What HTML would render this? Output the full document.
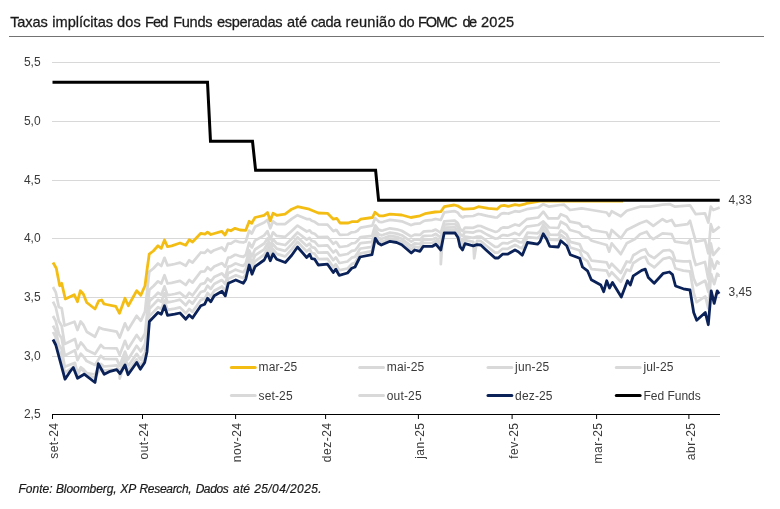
<!DOCTYPE html>
<html><head><meta charset="utf-8"><title>Chart</title>
<style>
html,body{margin:0;padding:0;background:#fff;}
body{width:780px;height:509px;position:relative;overflow:hidden;font-family:"Liberation Sans",sans-serif;}
svg text{font-family:"Liberation Sans",sans-serif;}
svg,#foot{will-change:transform;}
#title{position:absolute;left:10.3px;top:12.6px;font-size:14.6px;line-height:18px;color:#1f1f1f;white-space:nowrap;letter-spacing:-0.135px;}
#rule{position:absolute;left:9px;top:36px;width:755px;height:1px;background:#737373;}
#foot{position:absolute;left:18px;top:482px;font-size:12px;line-height:14px;font-style:italic;color:#1f1f1f;white-space:nowrap;letter-spacing:0.065px;}
</style></head><body>
<svg width="780" height="40" viewBox="0 0 780 40" style="position:absolute;left:0;top:0"><text x="10.18" y="26.6" font-size="14.6" fill="#1a1a1a" stroke="#1a1a1a" stroke-width="0.28" textLength="37.54" lengthAdjust="spacing">Taxas</text><text x="52.31" y="26.6" font-size="14.6" fill="#1a1a1a" stroke="#1a1a1a" stroke-width="0.28" textLength="60.74" lengthAdjust="spacing">implícitas</text><text x="117.01" y="26.6" font-size="14.6" fill="#1a1a1a" stroke="#1a1a1a" stroke-width="0.28" textLength="23.89" lengthAdjust="spacing">dos</text><text x="145.03" y="26.6" font-size="14.6" fill="#1a1a1a" stroke="#1a1a1a" stroke-width="0.28" textLength="23.34" lengthAdjust="spacing">Fed</text><text x="173.17" y="26.6" font-size="14.6" fill="#1a1a1a" stroke="#1a1a1a" stroke-width="0.28" textLength="39.32" lengthAdjust="spacing">Funds</text><text x="216.99" y="26.6" font-size="14.6" fill="#1a1a1a" stroke="#1a1a1a" stroke-width="0.28" textLength="65.50" lengthAdjust="spacing">esperadas</text><text x="286.91" y="26.6" font-size="14.6" fill="#1a1a1a" stroke="#1a1a1a" stroke-width="0.28" textLength="20.20" lengthAdjust="spacing">até</text><text x="310.93" y="26.6" font-size="14.6" fill="#1a1a1a" stroke="#1a1a1a" stroke-width="0.28" textLength="30.53" lengthAdjust="spacing">cada</text><text x="345.59" y="26.6" font-size="14.6" fill="#1a1a1a" stroke="#1a1a1a" stroke-width="0.28" textLength="49.98" lengthAdjust="spacing">reunião</text><text x="398.75" y="26.6" font-size="14.6" fill="#1a1a1a" stroke="#1a1a1a" stroke-width="0.28" textLength="15.79" lengthAdjust="spacing">do</text><text x="418.07" y="26.6" font-size="14.6" fill="#1a1a1a" stroke="#1a1a1a" stroke-width="0.28" textLength="39.60" lengthAdjust="spacing">FOMC</text><text x="462.46" y="26.6" font-size="14.6" fill="#1a1a1a" stroke="#1a1a1a" stroke-width="0.28" textLength="14.65" lengthAdjust="spacing">de</text><text x="481.03" y="26.6" font-size="14.6" fill="#1a1a1a" stroke="#1a1a1a" stroke-width="0.28" textLength="33.14" lengthAdjust="spacing">2025</text></svg>
<div id="rule"></div>
<svg width="780" height="509" viewBox="0 0 780 509" style="position:absolute;left:0;top:0">
<line x1="52" x2="720" y1="62.5" y2="62.5" stroke="#cbcbcb" stroke-width="0.75"/>
<line x1="52" x2="720" y1="121.5" y2="121.5" stroke="#cbcbcb" stroke-width="0.75"/>
<line x1="52" x2="720" y1="180.5" y2="180.5" stroke="#cbcbcb" stroke-width="0.75"/>
<line x1="52" x2="720" y1="238.5" y2="238.5" stroke="#cbcbcb" stroke-width="0.75"/>
<line x1="52" x2="720" y1="297.5" y2="297.5" stroke="#cbcbcb" stroke-width="0.75"/>
<line x1="52" x2="720" y1="356.5" y2="356.5" stroke="#cbcbcb" stroke-width="0.75"/>
<path d="M53.0,287.0 L55.8,292.3 L58.8,307.0 L61.7,308.3 L64.5,325.5 L74.5,321.7 L77.5,330.0 L80.6,321.5 L83.5,325.0 L86.7,331.7 L95.0,336.7 L99.2,327.5 L103.3,329.2 L116.7,331.7 L119.7,337.5 L125.0,323.3 L128.0,330.0 L136.7,315.8 L140.8,320.8 L145.0,311.7 L147.0,292.4 L149.2,272.4 L149.4,271.6 L153.3,268.5 L158.0,263.5 L161.3,266.0 L164.5,257.8 L167.5,265.4 L171.7,264.7 L174.7,264.0 L180.0,262.6 L185.8,265.7 L189.2,260.3 L192.5,262.6 L200.8,252.5 L204.7,252.8 L205.0,252.7 L207.5,249.8 L210.8,252.5 L214.2,250.2 L221.7,247.5 L222.0,247.7 L225.0,250.9 L225.3,250.5 L227.8,244.0 L228.3,243.5 L230.8,243.6 L235.0,240.8 L235.8,240.9 L240.0,242.2 L243.3,242.5 L245.8,241.5 L249.2,230.7 L251.7,233.5 L252.0,233.2 L255.0,226.8 L264.2,222.5 L267.5,219.7 L270.3,228.3 L273.0,221.3 L276.7,224.1 L285.0,224.1 L285.3,223.9 L291.7,218.8 L297.5,215.2 L306.7,219.1 L309.2,219.0 L309.7,219.0 L311.7,220.7 L314.7,221.8 L318.3,224.4 L327.5,224.6 L333.3,231.2 L335.8,230.0 L336.7,230.2 L339.2,234.0 L340.0,234.8 L347.5,234.5 L348.3,234.3 L351.7,232.3 L355.0,232.0 L357.5,230.8 L360.0,228.1 L360.8,227.6 L372.0,225.7 L372.5,225.1 L375.0,218.2 L375.3,218.1 L378.3,221.1 L379.2,221.8 L381.3,222.1 L383.3,221.8 L390.0,219.9 L396.7,220.6 L401.7,221.3 L410.8,225.0 L411.3,225.0 L414.7,223.9 L420.0,223.4 L423.3,221.3 L425.0,220.7 L432.5,219.8 L435.0,219.1 L435.8,219.0 L440.8,220.0 L444.2,212.4 L454.2,211.2 L455.0,211.3 L457.5,212.5 L458.0,212.9 L460.0,215.7 L462.5,217.4 L463.3,217.3 L465.0,216.3 L473.3,216.0 L477.0,214.5 L478.3,214.0 L480.8,214.3 L485.8,215.6 L488.3,216.2 L495.0,217.4 L497.0,217.5 L498.3,216.4 L500.8,214.0 L502.5,213.4 L504.2,213.1 L507.5,213.5 L508.3,213.6 L515.0,211.2 L518.3,211.6 L519.2,211.7 L526.7,209.2 L538.3,207.5 L543.3,204.2 L549.2,206.7 L560.0,205.0 L564.2,204.7 L570.0,210.0 L581.7,208.3 L591.7,210.0 L606.7,212.5 L609.2,215.8 L611.7,211.3 L620.8,216.3 L626.7,210.8 L640.0,206.7 L650.0,206.7 L662.5,204.7 L670.0,204.2 L675.0,206.7 L690.0,205.3 L695.8,214.2 L705.0,213.3 L708.3,222.5 L710.8,206.7 L713.3,210.0 L719.7,207.5" fill="none" stroke="#D9D9D9" stroke-width="2.75" stroke-linejoin="round" stroke-linecap="butt"/>
<path d="M53.0,301.7 L55.8,307.5 L58.8,321.0 L61.7,326.0 L64.7,344.0 L75.0,339.0 L77.5,349.0 L80.8,342.5 L83.5,345.5 L86.7,350.0 L95.0,354.0 L100.8,345.0 L104.0,348.0 L116.7,348.3 L119.7,355.0 L125.0,340.8 L128.0,348.7 L136.7,335.0 L140.8,340.8 L145.0,333.3 L147.0,314.4 L149.2,291.2 L149.4,289.8 L153.3,286.3 L158.0,281.3 L161.3,283.5 L164.5,275.2 L167.5,283.5 L171.7,282.8 L174.7,282.2 L180.0,280.8 L185.8,285.0 L189.2,280.0 L192.5,282.6 L200.8,271.7 L204.7,271.3 L205.0,271.0 L207.5,267.2 L210.8,270.1 L214.2,266.5 L221.7,263.2 L222.0,263.2 L225.0,266.7 L225.3,266.6 L227.8,258.7 L228.3,257.7 L230.8,257.3 L235.0,254.8 L235.8,254.8 L240.0,256.2 L243.3,256.9 L245.8,254.8 L249.2,242.7 L251.7,247.3 L252.0,247.4 L255.0,240.6 L264.2,235.4 L267.5,231.2 L270.3,239.4 L273.0,232.3 L276.7,235.9 L285.0,236.8 L285.3,236.8 L291.7,230.9 L297.5,225.6 L306.7,231.5 L309.2,230.5 L309.7,230.4 L311.7,232.9 L314.7,233.8 L318.3,237.2 L327.5,236.9 L333.3,243.9 L335.8,242.0 L336.7,242.6 L339.2,246.5 L340.0,247.0 L347.5,246.0 L348.3,245.6 L351.7,243.4 L355.0,243.0 L357.5,240.8 L360.0,237.6 L360.8,237.2 L372.0,235.9 L372.5,234.7 L375.0,226.0 L375.3,225.4 L378.3,229.3 L379.2,229.9 L381.3,230.6 L383.3,230.3 L390.0,228.3 L396.7,229.3 L401.7,230.7 L410.8,236.2 L411.3,236.4 L414.7,234.6 L420.0,234.9 L423.3,231.7 L425.0,231.4 L432.5,230.9 L435.0,229.9 L435.8,229.6 L440.8,232.8 L444.2,221.3 L454.2,220.7 L455.0,220.7 L457.5,222.9 L458.0,223.4 L460.0,228.8 L462.5,231.0 L463.3,230.1 L465.0,227.6 L473.3,227.8 L477.0,226.2 L478.3,225.9 L480.8,226.0 L485.8,228.2 L488.3,229.3 L495.0,231.8 L497.0,231.6 L498.3,230.9 L500.8,228.5 L502.5,227.6 L504.2,227.3 L507.5,227.6 L508.3,227.4 L515.0,224.5 L518.3,225.3 L519.2,225.6 L526.7,219.2 L538.3,217.5 L543.3,211.7 L548.3,218.3 L558.3,218.3 L560.8,214.2 L566.7,216.7 L570.0,221.7 L579.2,223.3 L582.5,226.7 L588.3,226.7 L591.7,230.0 L606.7,232.5 L609.2,238.3 L611.7,230.0 L620.8,238.3 L626.7,230.0 L640.0,223.3 L646.7,220.8 L650.0,223.3 L653.3,225.8 L662.5,219.2 L666.7,221.7 L671.7,220.0 L675.0,225.8 L687.5,224.2 L690.0,220.8 L695.8,241.7 L705.0,240.0 L708.3,253.3 L710.8,224.2 L713.3,231.7 L719.7,226.7" fill="none" stroke="#D9D9D9" stroke-width="2.75" stroke-linejoin="round" stroke-linecap="butt"/>
<path d="M53.0,316.0 L55.8,321.1 L58.8,333.9 L61.7,338.3 L64.7,355.6 L75.0,350.3 L77.5,360.2 L80.8,353.7 L83.5,356.6 L86.7,361.1 L95.0,364.9 L100.8,355.8 L104.0,358.8 L116.7,359.1 L119.7,365.8 L125.0,351.6 L128.0,359.5 L136.7,345.8 L140.8,351.5 L145.0,343.8 L147.0,328.1 L149.2,303.1 L149.4,301.3 L153.3,297.6 L158.0,292.7 L161.3,294.7 L164.5,286.4 L167.5,295.1 L171.7,294.5 L174.7,294.0 L180.0,292.7 L185.8,297.6 L189.2,292.8 L192.5,295.5 L200.8,284.1 L204.7,283.2 L205.0,282.8 L207.5,278.5 L210.8,281.5 L214.2,277.1 L221.7,273.4 L222.0,273.4 L225.0,277.0 L225.3,277.1 L227.8,268.2 L228.3,266.7 L230.8,266.1 L235.0,263.7 L235.8,263.5 L240.0,265.0 L243.3,265.9 L245.8,263.1 L249.2,250.3 L251.7,256.1 L252.0,256.5 L255.0,249.5 L264.2,243.5 L267.5,238.4 L270.3,246.3 L273.0,239.2 L276.7,243.4 L285.0,245.0 L285.3,245.0 L291.7,238.7 L297.5,232.5 L306.7,239.7 L309.2,238.1 L309.7,237.9 L311.7,241.0 L314.7,241.7 L318.3,245.8 L327.5,245.3 L333.3,252.5 L335.8,250.2 L336.7,251.1 L339.2,255.2 L340.0,255.4 L347.5,254.0 L348.3,253.5 L351.7,250.9 L355.0,250.3 L357.5,247.3 L360.0,243.5 L360.8,243.2 L372.0,241.9 L372.5,240.2 L375.0,230.4 L375.3,229.5 L378.3,233.8 L379.2,234.4 L381.3,235.3 L383.3,234.8 L390.0,232.6 L396.7,233.6 L401.7,235.2 L410.8,241.3 L411.3,241.6 L414.7,239.4 L420.0,239.9 L423.3,236.1 L425.0,235.9 L432.5,235.5 L435.0,234.2 L435.8,233.9 L440.8,237.7 L444.2,224.6 L454.2,224.0 L455.0,224.1 L457.5,226.6 L458.0,227.2 L460.0,233.6 L462.5,236.1 L463.3,234.9 L465.0,231.9 L473.3,232.6 L477.0,231.1 L478.3,230.9 L480.8,231.0 L485.8,233.9 L488.3,235.2 L495.0,238.6 L497.0,238.5 L498.3,238.1 L500.8,236.0 L502.5,235.1 L504.2,235.1 L507.5,235.6 L508.3,235.5 L515.0,232.9 L518.3,234.4 L519.2,235.0 L526.7,226.7 L538.3,225.0 L543.3,221.5 L549.2,227.5 L558.3,228.0 L560.8,221.7 L566.7,225.0 L570.0,230.0 L579.2,232.5 L582.5,236.0 L588.3,237.5 L591.7,240.8 L606.7,245.0 L609.2,251.7 L611.7,243.3 L620.8,254.2 L626.7,243.3 L635.0,239.0 L640.0,234.2 L646.7,231.7 L650.0,236.7 L653.3,239.2 L662.5,233.3 L671.7,234.2 L675.0,241.7 L687.5,243.3 L690.0,240.0 L693.7,258.0 L695.8,265.0 L705.0,262.0 L708.3,279.0 L710.8,243.3 L713.3,255.0 L719.7,247.5" fill="none" stroke="#D9D9D9" stroke-width="2.75" stroke-linejoin="round" stroke-linecap="butt"/>
<path d="M53.0,325.7 L55.8,331.2 L58.8,344.4 L61.7,349.1 L64.7,366.8 L75.0,362.9 L77.5,373.5 L80.8,367.3 L83.5,369.4 L86.7,373.0 L95.0,374.5 L100.8,363.9 L104.0,366.5 L116.7,365.3 L119.7,372.0 L125.0,357.8 L128.0,366.2 L136.7,353.9 L140.8,359.8 L145.0,352.3 L147.0,337.0 L149.2,310.8 L149.4,308.7 L153.3,304.8 L158.0,299.8 L161.3,301.7 L164.5,293.3 L167.5,302.3 L171.7,301.6 L174.7,301.0 L180.0,299.7 L185.8,305.2 L189.2,300.7 L192.5,303.6 L200.8,292.0 L204.7,290.9 L205.0,290.4 L207.5,285.7 L210.8,288.9 L214.2,284.0 L221.7,280.0 L222.0,280.0 L225.0,283.8 L225.3,284.0 L227.8,274.5 L228.3,272.9 L230.8,272.1 L235.0,269.9 L235.8,269.7 L240.0,271.2 L243.3,272.3 L245.8,268.9 L249.2,255.5 L251.7,262.1 L252.0,262.7 L255.0,255.4 L264.2,249.3 L267.5,243.5 L270.3,251.2 L273.0,244.1 L276.7,248.7 L285.0,250.8 L285.3,250.9 L291.7,244.2 L297.5,237.3 L306.7,245.9 L309.2,243.9 L309.7,243.6 L311.7,247.2 L314.7,247.9 L318.3,252.7 L327.5,252.3 L333.3,260.1 L335.8,257.4 L336.7,258.6 L339.2,262.9 L340.0,263.0 L347.5,261.5 L348.3,260.8 L351.7,257.7 L355.0,256.8 L357.5,253.0 L360.0,248.8 L360.8,248.5 L372.0,246.8 L372.5,244.8 L375.0,234.0 L375.3,232.9 L378.3,237.4 L379.2,238.0 L381.3,239.0 L383.3,238.3 L390.0,235.9 L396.7,236.9 L401.7,238.8 L410.8,245.6 L411.3,245.9 L414.7,243.4 L420.0,244.2 L423.3,239.9 L425.0,239.8 L432.5,239.5 L435.0,238.2 L435.8,237.8 L440.8,242.3 L444.2,227.7 L454.2,227.4 L455.0,227.4 L457.5,230.5 L458.0,231.1 L460.0,238.6 L462.5,241.5 L463.3,240.0 L465.0,236.5 L473.3,237.9 L477.0,236.6 L478.3,236.5 L480.8,236.7 L485.8,240.4 L488.3,242.2 L495.0,246.8 L497.0,246.8 L498.3,246.5 L500.8,244.3 L502.5,243.1 L504.2,243.1 L507.5,243.4 L508.3,243.1 L515.0,239.9 L518.3,241.4 L519.2,242.1 L522.3,242.3 L526.7,234.1 L527.5,232.7 L537.5,233.3 L538.3,232.7 L540.0,231.1 L543.3,224.9 L546.7,229.2 L549.2,233.8 L549.7,234.6 L558.3,234.8 L560.8,230.4 L566.7,234.6 L570.0,241.4 L570.3,241.9 L579.2,244.1 L579.7,244.3 L582.5,250.6 L587.5,253.7 L588.3,255.1 L591.3,260.4 L591.7,260.6 L606.7,262.4 L609.2,267.7 L611.7,263.8 L620.8,273.0 L626.7,261.5 L630.3,262.3 L633.3,255.3 L635.0,254.3 L640.0,251.1 L641.7,250.2 L645.3,249.2 L646.7,251.8 L648.3,254.7 L650.0,255.8 L653.3,257.6 L654.2,258.1 L662.5,251.2 L663.3,250.7 L669.5,250.0 L671.7,251.7 L672.5,252.3 L675.0,259.3 L675.5,260.6 L683.3,261.4 L687.5,261.3 L690.0,261.2 L693.7,278.5 L695.8,283.6 L696.7,285.3 L705.0,280.7 L705.3,280.8 L708.3,292.0 L710.8,262.1 L711.2,259.1 L713.3,266.2 L714.2,268.7 L717.2,261.3 L719.2,263.5 L719.7,263.5" fill="none" stroke="#D9D9D9" stroke-width="2.75" stroke-linejoin="round" stroke-linecap="butt"/>
<path d="M53.0,332.0 L55.8,337.5 L58.8,350.7 L61.7,355.4 L64.7,373.0 L75.0,365.8 L77.5,375.5 L80.8,368.5 L83.5,371.0 L86.7,375.0 L95.0,377.8 L100.8,367.9 L104.0,370.5 L116.7,369.4 L118.2,371.5 L119.7,373.6 L119.7,378.5 L125.0,362.8 L128.0,371.3 L136.7,359.4 L140.8,365.5 L145.0,358.3 L147.0,345.4 L149.2,318.4 L149.4,316.1 L153.3,312.1 L158.0,307.2 L161.3,308.9 L164.5,300.5 L167.5,309.8 L171.7,309.1 L174.7,308.6 L180.0,307.4 L185.8,313.3 L189.2,309.0 L192.5,311.9 L200.8,300.0 L204.7,298.6 L205.0,298.0 L207.5,293.0 L210.8,296.3 L214.2,290.8 L221.7,286.7 L222.0,286.5 L225.0,290.4 L225.3,290.7 L227.8,280.7 L228.3,278.8 L230.8,277.7 L235.0,275.7 L235.8,275.3 L240.0,276.9 L243.3,278.1 L245.8,274.3 L249.2,260.5 L251.7,267.9 L252.0,268.7 L255.0,261.3 L264.2,254.6 L267.5,248.4 L270.3,256.0 L273.0,249.0 L276.7,253.9 L285.0,256.4 L285.3,256.4 L291.7,249.4 L297.5,241.8 L306.7,251.5 L309.2,249.3 L309.7,248.8 L311.7,253.0 L314.7,253.7 L318.3,259.1 L327.5,258.8 L333.3,267.1 L335.8,264.2 L336.7,265.6 L339.2,270.1 L340.0,270.1 L347.5,268.5 L348.3,267.7 L351.7,264.1 L355.0,262.8 L357.5,258.3 L360.0,253.5 L360.8,253.3 L372.0,251.1 L372.5,248.9 L375.0,237.1 L375.3,235.8 L378.3,240.6 L379.2,241.1 L381.3,242.1 L383.3,241.4 L390.0,238.6 L396.7,239.7 L401.7,241.7 L410.8,249.1 L411.3,249.4 L414.7,246.7 L420.0,247.8 L423.3,243.1 L425.0,243.0 L432.5,242.9 L435.0,241.4 L435.8,241.0 L438.6,242.7 L440.8,246.2 L440.8,264.2 L443.2,230.4 L444.2,230.4 L454.2,230.2 L455.0,230.2 L457.5,233.6 L458.0,234.3 L460.0,242.7 L462.5,245.8 L463.3,244.0 L465.0,240.2 L471.2,241.3 L473.3,241.9 L474.2,258.3 L477.0,240.8 L477.0,240.8 L478.3,240.8 L480.8,241.0 L485.8,245.2 L488.3,247.2 L495.0,252.6 L497.0,252.6 L498.3,252.5 L500.8,250.2 L502.5,248.8 L504.2,248.8 L507.5,248.9 L508.3,248.5 L515.0,245.0 L518.3,246.6 L519.2,247.3 L522.3,248.4 L526.7,238.9 L527.5,237.2 L537.5,238.1 L538.3,237.4 L540.0,235.7 L543.3,228.7 L546.7,233.6 L549.2,238.7 L549.7,239.7 L558.3,240.1 L560.8,234.9 L566.7,239.5 L570.0,246.9 L570.3,247.5 L579.2,250.3 L579.7,250.4 L582.5,257.8 L587.5,261.2 L588.3,262.8 L591.3,268.9 L591.7,269.1 L606.7,270.6 L609.2,276.1 L611.7,272.3 L620.8,281.8 L626.7,269.6 L630.3,270.9 L633.3,263.0 L635.0,262.0 L640.0,258.7 L641.7,257.8 L645.3,256.7 L646.7,259.7 L648.3,263.2 L650.0,264.4 L653.3,266.7 L654.2,267.4 L662.5,259.6 L663.3,258.8 L669.5,257.4 L671.7,258.9 L672.5,259.5 L675.0,267.1 L675.5,268.5 L683.3,270.6 L687.5,271.1 L690.0,271.4 L693.7,293.0 L695.8,299.6 L696.7,302.2 L705.0,296.6 L705.3,296.5 L708.3,308.3 L710.8,278.0 L711.2,274.1 L713.3,281.4 L714.2,284.2 L717.2,273.7 L719.2,275.7 L719.7,275.6" fill="none" stroke="#D9D9D9" stroke-width="2.75" stroke-linejoin="round" stroke-linecap="butt"/>
<path d="M53.0,262.5 L56.3,268.3 L59.7,285.8 L61.7,283.3 L65.3,299.0 L74.2,294.7 L77.5,301.7 L80.3,290.8 L83.3,294.0 L86.7,302.5 L95.0,309.0 L98.7,300.8 L101.7,300.0 L104.0,304.0 L115.8,306.3 L119.5,313.3 L125.0,298.3 L128.3,305.8 L136.7,290.8 L140.8,295.3 L145.0,285.8 L147.0,270.0 L149.2,254.2 L153.3,251.0 L158.0,245.8 L161.3,248.3 L164.5,240.0 L167.5,246.7 L171.7,245.8 L180.0,243.0 L185.8,245.3 L189.2,239.7 L192.5,242.0 L200.8,233.3 L205.0,234.2 L207.5,232.2 L210.8,234.5 L221.7,231.3 L225.0,235.0 L227.8,229.7 L230.8,230.8 L235.0,228.3 L240.0,230.0 L245.8,230.3 L249.2,221.3 L251.7,223.3 L255.0,217.5 L264.2,215.3 L267.5,212.5 L270.3,220.8 L273.0,213.2 L276.7,215.3 L285.0,214.2 L291.7,209.2 L297.5,206.7 L309.2,209.2 L318.3,213.0 L327.5,213.3 L333.3,219.2 L336.7,218.3 L340.0,223.0 L348.3,223.0 L351.7,221.7 L357.5,221.7 L360.8,219.2 L372.5,217.5 L375.0,212.2 L379.2,215.8 L383.3,215.8 L390.0,214.2 L396.7,214.7 L401.7,215.0 L410.8,217.5 L420.0,215.8 L425.0,213.7 L435.0,212.0 L440.8,211.7 L444.2,206.7 L454.2,205.0 L457.5,205.8 L463.3,209.2 L473.3,208.7 L478.3,206.7 L488.3,208.3 L497.0,209.2 L500.8,205.8 L504.2,205.3 L508.3,206.3 L515.0,204.7 L519.2,205.3 L524.7,204.2 L526.7,203.3 L540.0,201.2 L568.0,201.1 L600.0,201.1 L623.0,201.1" fill="none" stroke="#F4BD14" stroke-width="2.8" stroke-linejoin="round" stroke-linecap="butt"/>
<path d="M53.0,339.5 L55.8,345.0 L65.0,379.2 L70.0,371.7 L73.3,367.5 L77.5,378.3 L84.2,374.2 L95.0,382.5 L98.3,363.7 L104.2,374.2 L109.2,371.7 L116.7,369.7 L120.0,373.7 L125.0,365.0 L128.0,374.7 L136.7,362.5 L140.3,369.2 L144.7,362.5 L147.0,351.7 L149.4,321.5 L158.0,312.5 L161.3,314.2 L164.5,305.8 L167.5,315.3 L174.7,314.2 L180.0,313.0 L185.8,319.2 L189.2,315.0 L192.5,318.0 L200.8,305.8 L204.7,304.2 L207.5,298.3 L210.8,301.7 L214.2,295.8 L222.0,291.3 L225.3,295.8 L228.3,283.3 L235.8,280.0 L243.3,283.3 L245.8,279.2 L249.2,265.0 L252.0,274.2 L255.0,266.7 L264.2,260.0 L267.5,253.3 L270.3,260.8 L273.0,253.9 L276.7,259.2 L285.3,262.5 L291.7,255.3 L297.5,247.0 L306.7,257.5 L309.7,254.2 L311.7,258.7 L314.7,259.2 L318.3,265.0 L327.5,264.2 L333.3,272.5 L335.8,269.2 L339.2,275.3 L347.5,273.0 L351.7,268.3 L355.0,267.0 L360.0,257.0 L372.0,254.7 L375.3,238.3 L378.3,243.3 L381.3,245.0 L390.0,241.3 L396.7,242.5 L401.7,244.7 L411.3,253.0 L414.7,250.0 L420.0,251.3 L423.3,246.3 L432.5,246.3 L435.8,244.2 L440.8,250.0 L444.2,233.0 L455.0,233.0 L458.0,237.5 L460.0,246.7 L462.5,250.0 L465.0,243.7 L473.3,245.8 L477.0,244.7 L480.8,245.0 L485.8,249.7 L495.0,258.0 L498.3,258.0 L502.5,254.2 L507.5,254.2 L515.0,250.0 L518.3,251.7 L522.3,255.2 L527.5,242.5 L537.5,244.2 L540.0,241.7 L543.3,233.7 L546.7,239.2 L549.7,246.3 L558.3,247.0 L560.8,240.8 L566.7,245.8 L570.3,254.7 L579.7,258.3 L582.5,267.0 L587.5,270.8 L591.3,279.7 L600.8,285.0 L603.7,291.7 L606.7,280.8 L609.5,288.0 L612.5,282.5 L621.3,297.0 L627.5,280.8 L630.3,285.0 L633.3,275.8 L641.7,270.3 L645.3,269.2 L648.3,277.5 L654.2,283.2 L663.3,273.3 L669.5,272.0 L672.5,274.6 L675.5,286.0 L683.3,288.8 L690.0,290.0 L693.7,312.5 L696.7,320.3 L705.3,312.5 L708.3,324.7 L711.2,290.8 L714.2,303.3 L717.2,290.8 L719.2,293.7" fill="none" stroke="#0B2259" stroke-width="2.8" stroke-linejoin="round" stroke-linecap="butt"/>
<path d="M52.5,82.2 L207.5,82.2 L210.5,141.3 L252.5,141.3 L255.6,170.3 L375.6,170.3 L378.6,200.3 L719.7,200.3" fill="none" stroke="#000" stroke-width="3" stroke-linejoin="miter" stroke-linecap="butt"/>
<line x1="52" x2="720" y1="414.5" y2="414.5" stroke="#000" stroke-width="1"/>
<line x1="52.5" x2="52.5" y1="414.5" y2="419.0" stroke="#000" stroke-width="1"/>
<line x1="142.5" x2="142.5" y1="414.5" y2="419.0" stroke="#000" stroke-width="1"/>
<line x1="235.6" x2="235.6" y1="414.5" y2="419.0" stroke="#000" stroke-width="1"/>
<line x1="325.6" x2="325.6" y1="414.5" y2="419.0" stroke="#000" stroke-width="1"/>
<line x1="418.4" x2="418.4" y1="414.5" y2="419.0" stroke="#000" stroke-width="1"/>
<line x1="512.1" x2="512.1" y1="414.5" y2="419.0" stroke="#000" stroke-width="1"/>
<line x1="596.6" x2="596.6" y1="414.5" y2="419.0" stroke="#000" stroke-width="1"/>
<line x1="688.9" x2="688.9" y1="414.5" y2="419.0" stroke="#000" stroke-width="1"/>
<line x1="231.4" x2="255.2" y1="367.4" y2="367.4" stroke="#F4BD14" stroke-width="3" stroke-linecap="round"/>
<text x="258.5" y="370.8" font-size="12" letter-spacing="0.15" fill="#3a3a3a">mar-25</text>
<line x1="359.7" x2="383.5" y1="367.4" y2="367.4" stroke="#D9D9D9" stroke-width="3" stroke-linecap="round"/>
<text x="386.8" y="370.8" font-size="12" letter-spacing="0.15" fill="#3a3a3a">mai-25</text>
<line x1="488.0" x2="511.8" y1="367.4" y2="367.4" stroke="#D9D9D9" stroke-width="3" stroke-linecap="round"/>
<text x="515.1" y="370.8" font-size="12" letter-spacing="0.15" fill="#3a3a3a">jun-25</text>
<line x1="616.3" x2="640.1" y1="367.4" y2="367.4" stroke="#D9D9D9" stroke-width="3" stroke-linecap="round"/>
<text x="643.4" y="370.8" font-size="12" letter-spacing="0.15" fill="#3a3a3a">jul-25</text>
<line x1="231.4" x2="255.2" y1="395.5" y2="395.5" stroke="#D9D9D9" stroke-width="3" stroke-linecap="round"/>
<text x="258.5" y="399.5" font-size="12" letter-spacing="0.15" fill="#3a3a3a">set-25</text>
<line x1="359.7" x2="383.5" y1="395.5" y2="395.5" stroke="#D9D9D9" stroke-width="3" stroke-linecap="round"/>
<text x="386.8" y="399.5" font-size="12" letter-spacing="0.15" fill="#3a3a3a">out-25</text>
<line x1="488.0" x2="511.8" y1="395.5" y2="395.5" stroke="#0B2259" stroke-width="3" stroke-linecap="round"/>
<text x="515.1" y="399.5" font-size="12" letter-spacing="0.15" fill="#3a3a3a">dez-25</text>
<line x1="616.3" x2="640.1" y1="395.5" y2="395.5" stroke="#000" stroke-width="3" stroke-linecap="round"/>
<text x="643.4" y="399.5" font-size="12" letter-spacing="0" fill="#3a3a3a">Fed Funds</text>
<text x="40.6" y="66.0" font-size="12" fill="#3a3a3a" text-anchor="end">5,5</text>
<text x="40.6" y="125.0" font-size="12" fill="#3a3a3a" text-anchor="end">5,0</text>
<text x="40.6" y="184.0" font-size="12" fill="#3a3a3a" text-anchor="end">4,5</text>
<text x="40.6" y="242.0" font-size="12" fill="#3a3a3a" text-anchor="end">4,0</text>
<text x="40.6" y="301.0" font-size="12" fill="#3a3a3a" text-anchor="end">3,5</text>
<text x="40.6" y="360.0" font-size="12" fill="#3a3a3a" text-anchor="end">3,0</text>
<text x="40.6" y="418.0" font-size="12" fill="#3a3a3a" text-anchor="end">2,5</text>
<text transform="translate(58.1,422.5) rotate(-90)" letter-spacing="0.5" font-size="12" fill="#3a3a3a" text-anchor="end">set-24</text>
<text transform="translate(148.1,422.5) rotate(-90)" letter-spacing="0.5" font-size="12" fill="#3a3a3a" text-anchor="end">out-24</text>
<text transform="translate(241.2,422.5) rotate(-90)" letter-spacing="0.5" font-size="12" fill="#3a3a3a" text-anchor="end">nov-24</text>
<text transform="translate(331.2,422.5) rotate(-90)" letter-spacing="0.5" font-size="12" fill="#3a3a3a" text-anchor="end">dez-24</text>
<text transform="translate(424.0,422.5) rotate(-90)" letter-spacing="0.5" font-size="12" fill="#3a3a3a" text-anchor="end">jan-25</text>
<text transform="translate(517.7,422.5) rotate(-90)" letter-spacing="0.5" font-size="12" fill="#3a3a3a" text-anchor="end">fev-25</text>
<text transform="translate(602.2,422.5) rotate(-90)" letter-spacing="0.5" font-size="12" fill="#3a3a3a" text-anchor="end">mar-25</text>
<text transform="translate(694.5,422.5) rotate(-90)" letter-spacing="0.5" font-size="12" fill="#3a3a3a" text-anchor="end">abr-25</text>
<text x="728.6" y="203.9" font-size="12" fill="#3a3a3a">4,33</text>
<text x="728.6" y="296" font-size="12" fill="#3a3a3a">3,45</text>
</svg>
<svg width="780" height="29" viewBox="0 0 780 29" style="position:absolute;left:0;top:480px"><text x="18.49" y="12.7" font-size="12" font-style="italic" fill="#1a1a1a" stroke="#1a1a1a" stroke-width="0.2" textLength="34.16" lengthAdjust="spacing">Fonte:</text><text x="55.90" y="12.7" font-size="12" font-style="italic" fill="#1a1a1a" stroke="#1a1a1a" stroke-width="0.2" textLength="60.81" lengthAdjust="spacing">Bloomberg,</text><text x="120.35" y="12.7" font-size="12" font-style="italic" fill="#1a1a1a" stroke="#1a1a1a" stroke-width="0.2" textLength="15.88" lengthAdjust="spacing">XP</text><text x="139.49" y="12.7" font-size="12" font-style="italic" fill="#1a1a1a" stroke="#1a1a1a" stroke-width="0.2" textLength="52.21" lengthAdjust="spacing">Research,</text><text x="195.63" y="12.7" font-size="12" font-style="italic" fill="#1a1a1a" stroke="#1a1a1a" stroke-width="0.2" textLength="33.02" lengthAdjust="spacing">Dados</text><text x="233.08" y="12.7" font-size="12" font-style="italic" fill="#1a1a1a" stroke="#1a1a1a" stroke-width="0.2" textLength="16.94" lengthAdjust="spacing">até</text><text x="254.17" y="12.7" font-size="12" font-style="italic" fill="#1a1a1a" stroke="#1a1a1a" stroke-width="0.2" textLength="67.54" lengthAdjust="spacing">25/04/2025.</text></svg>
</body></html>
